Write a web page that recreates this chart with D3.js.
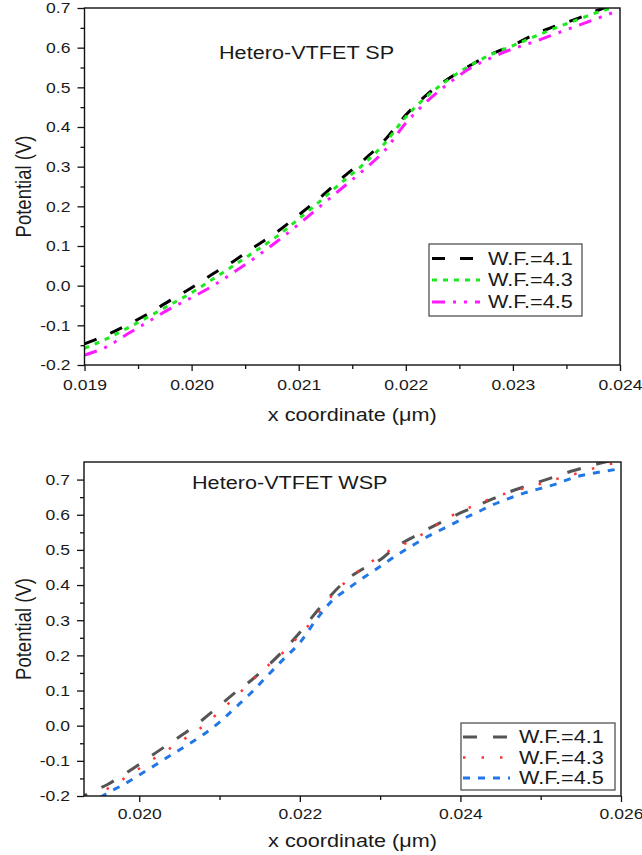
<!DOCTYPE html>
<html>
<head>
<meta charset="utf-8">
<script src="https://cdn.jsdelivr.net/npm/d3@7"></script>
<style>
  body { margin: 0; background: #fff; }
  svg { display: block; }
  text { font-family: "Liberation Sans", Arial, sans-serif; fill: #1a1a1a; }
</style>
</head>
<body>
<div id="chart"></div>
<script>
// ---- data ----
// top panel : Hetero-VTFET SP
let spX = [0.0190, 0.0192, 0.0194, 0.0196, 0.0198, 0.0200, 0.0202, 0.0204, 0.0206, 0.0208,
           0.0210, 0.0212, 0.0214, 0.0216, 0.0218, 0.0220, 0.0222, 0.0224, 0.0226, 0.0228,
           0.0230, 0.0232, 0.0234, 0.0236, 0.0238, 0.0240]
let spWF41 = [-0.147, -0.125, -0.099, -0.070, -0.037, -0.005, 0.030, 0.063, 0.100, 0.136,
              0.178, 0.222, 0.270, 0.315, 0.366, 0.430, 0.482, 0.522, 0.555, 0.584,
              0.606, 0.633, 0.655, 0.673, 0.695, 0.712]
let spWF43 = [-0.158, -0.135, -0.107, -0.078, -0.048, -0.018, 0.017, 0.052, 0.088, 0.125,
              0.168, 0.213, 0.260, 0.305, 0.358, 0.425, 0.478, 0.520, 0.555, 0.583,
              0.605, 0.628, 0.650, 0.670, 0.690, 0.705]
let spWF45 = [-0.175, -0.155, -0.122, -0.090, -0.058, -0.030, 0.000, 0.035, 0.072, 0.112,
              0.155, 0.200, 0.245, 0.290, 0.340, 0.410, 0.465, 0.510, 0.548, 0.575,
              0.597, 0.615, 0.635, 0.655, 0.675, 0.695]

// bottom panel : Hetero-VTFET WSP
let wspX = [0.0192, 0.0194, 0.0196, 0.0198, 0.0200, 0.0202, 0.0204, 0.0206, 0.0208, 0.0210,
            0.0212, 0.0214, 0.0216, 0.0218, 0.0220, 0.0222, 0.0224, 0.0226, 0.0228, 0.0230,
            0.0232, 0.0234, 0.0236, 0.0238, 0.0240, 0.0242, 0.0244, 0.0246, 0.0248, 0.0250,
            0.0252, 0.0254, 0.0256, 0.0258, 0.0260]
let wspWF41 = [-0.215, -0.188, -0.168, -0.140, -0.110, -0.078, -0.047, -0.016, 0.019, 0.057,
               0.095, 0.130, 0.170, 0.215, 0.265, 0.322, 0.374, 0.418, 0.448, 0.472,
               0.509, 0.535, 0.560, 0.583, 0.605, 0.625, 0.645, 0.664, 0.680, 0.695,
               0.710, 0.725, 0.738, 0.750, 0.762]
let wspWF43 = [-0.235, -0.207, -0.180, -0.152, -0.122, -0.091, -0.062, -0.032, 0.000, 0.040,
               0.082, 0.127, 0.170, 0.210, 0.258, 0.310, 0.370, 0.415, 0.452, 0.482,
               0.508, 0.527, 0.556, 0.585, 0.610, 0.628, 0.648, 0.663, 0.676, 0.688,
               0.702, 0.714, 0.728, 0.741, 0.750]
let wspWF45 = [-0.250, -0.222, -0.192, -0.168, -0.140, -0.112, -0.083, -0.055, -0.025, 0.010,
               0.052, 0.095, 0.143, 0.190, 0.236, 0.300, 0.355, 0.390, 0.422, 0.453,
               0.484, 0.512, 0.539, 0.562, 0.585, 0.606, 0.628, 0.646, 0.662, 0.675,
               0.688, 0.705, 0.716, 0.724, 0.731]

let legendNames = ["W.F.=4.1", "W.F.=4.3", "W.F.=4.5"]

let spXTicks = [0.019, 0.020, 0.021, 0.022, 0.023, 0.024]
let spXMinor = [0.0195, 0.0205, 0.0215, 0.0225, 0.0235]
let spYTicks = [-0.2, -0.1, 0.0, 0.1, 0.2, 0.3, 0.4, 0.5, 0.6, 0.7]
let spYMinor = [-0.15, -0.05, 0.05, 0.15, 0.25, 0.35, 0.45, 0.55, 0.65]

let wspXTicks = [0.020, 0.022, 0.024, 0.026]
let wspXMinor = [0.021, 0.023, 0.025]
let wspYTicks = [-0.2, -0.1, 0.0, 0.1, 0.2, 0.3, 0.4, 0.5, 0.6, 0.7]
let wspYMinor = [-0.15, -0.05, 0.05, 0.15, 0.25, 0.35, 0.45, 0.55, 0.65]

// the source picture is a bit wider than tall, so text gets stretched sideways
const STRETCH = 1.17

var svg = d3.select("#chart").append("svg")
    .attr("width", 642)
    .attr("height", 855)

function stretch(sel) {
    sel.each(function () {
        let t = d3.select(this)
        let x = +t.attr("x") || 0
        let y = +t.attr("y") || 0
        t.attr("transform", `translate(${x},${y}) scale(${STRETCH},1) translate(${-x},${-y})`)
    })
}

function panel(cfg) {
    let x = d3.scaleLinear().domain(cfg.xDomain).range([cfg.left, cfg.right])
    let y = d3.scaleLinear().domain(cfg.yDomain).range([cfg.bottom, cfg.top])

    let g = svg.append("g")

    g.append("clipPath").attr("id", cfg.id + "-clip")
        .append("rect")
        .attr("x", cfg.left).attr("y", cfg.top)
        .attr("width", cfg.right - cfg.left).attr("height", cfg.bottom - cfg.top)

    // lines
    let line = d3.line()
        .x((d) => x(d[0]))
        .y((d) => y(d[1]))
        .curve(d3.curveMonotoneX)

    let lines = g.append("g").attr("clip-path", `url(#${cfg.id}-clip)`)
    cfg.series.forEach((s) => {
        let pts = cfg.xs.map((xv, i) => [xv, s.values[i]])
        lines.append("path")
            .attr("d", line(pts))
            .attr("fill", "none")
            .attr("stroke", s.color)
            .attr("stroke-width", s.width)
            .attr("stroke-dasharray", s.dash)
            .attr("stroke-linecap", s.cap || "butt")
    })

    // minor ticks
    g.append("g")
        .attr("transform", `translate(0,${cfg.bottom})`)
        .call(d3.axisBottom(x).tickValues(cfg.xMinor).tickSize(4).tickFormat(""))
        .call((a) => a.select(".domain").remove())
    g.append("g")
        .attr("transform", `translate(${cfg.left},0)`)
        .call(d3.axisLeft(y).tickValues(cfg.yMinor).tickSize(4).tickFormat(""))
        .call((a) => a.select(".domain").remove())

    // major ticks + labels
    let xa = g.append("g")
        .attr("transform", `translate(0,${cfg.bottom})`)
        .call(d3.axisBottom(x).tickValues(cfg.xTicks).tickSize(6).tickPadding(cfg.xPad).tickFormat(d3.format(".3f")))
    xa.select(".domain").remove()

    let ya = g.append("g")
        .attr("transform", `translate(${cfg.left},0)`)
        .call(d3.axisLeft(y).tickValues(cfg.yTicks).tickSize(7).tickPadding(7).tickFormat((d) => d.toFixed(1)))
    ya.select(".domain").remove()

    g.selectAll(".tick line").attr("stroke", "#111").attr("stroke-width", 1.3)
    g.selectAll(".tick text")
        .attr("font-family", "Liberation Sans, Arial, sans-serif")
        .attr("font-size", 15)
        .attr("fill", "#1a1a1a")
    stretch(g.selectAll(".tick text"))

    // frame
    g.append("rect")
        .attr("x", cfg.left).attr("y", cfg.top)
        .attr("width", cfg.right - cfg.left).attr("height", cfg.bottom - cfg.top)
        .attr("fill", "none")
        .attr("stroke", "#111")
        .attr("stroke-width", 1.4)

    // panel title
    g.append("text")
        .attr("x", cfg.titleX).attr("y", cfg.titleY)
        .attr("font-size", 18.5)
        .text(cfg.title)
        .call(stretch)

    // axis titles
    let xt = g.append("text")
        .attr("x", (cfg.left + cfg.right) / 2).attr("y", cfg.xTitleY)
        .attr("text-anchor", "middle")
        .attr("font-size", 18.5)
    xt.append("tspan").text("x coordinate (")
    xt.append("tspan").text("μ")
    xt.append("tspan").text("m)")
    stretch(xt)

    g.append("g")
        .attr("transform", `translate(30.5,${(cfg.top + cfg.bottom) / 2}) scale(${STRETCH},1) rotate(-90)`)
        .append("text")
        .attr("text-anchor", "middle")
        .attr("font-size", 18.5)
        .text("Potential (V)")

    // legend
    let lg = g.append("g")
    lg.append("rect")
        .attr("x", cfg.legend.x).attr("y", cfg.legend.y)
        .attr("width", cfg.legend.w).attr("height", cfg.legend.h)
        .attr("fill", "#fff")
        .attr("stroke", "#444")
        .attr("stroke-width", 1.2)
    cfg.series.forEach((s, i) => {
        let cy = cfg.legend.rows[i]
        lg.append("line")
            .attr("x1", cfg.legend.sx1).attr("x2", cfg.legend.sx2)
            .attr("y1", cy).attr("y2", cy)
            .attr("stroke", s.color)
            .attr("stroke-width", s.width)
            .attr("stroke-dasharray", s.dash)
            .attr("stroke-linecap", s.cap || "butt")
        lg.append("text")
            .attr("x", cfg.legend.tx).attr("y", cy + 6.5)
            .attr("font-size", 18.5)
            .text(legendNames[i])
            .call(stretch)
    })
}

panel({
    id: "sp",
    left: 84.5, right: 620, top: 8, bottom: 365,
    xDomain: [0.019, 0.024], yDomain: [-0.2, 0.7],
    xs: spX,
    xTicks: spXTicks, xMinor: spXMinor, yTicks: spYTicks, yMinor: spYMinor,
    xPad: 8,
    series: [
        { values: spWF41, color: "#000000", width: 3, dash: "13,15" },
        { values: spWF43, color: "#1ee81e", width: 3, dash: "5,6" },
        { values: spWF45, color: "#ff1aff", width: 3, dash: "13,8,3,8,3,8" }
    ],
    title: "Hetero-VTFET SP", titleX: 219, titleY: 59,
    xTitleY: 421,
    legend: { x: 429, y: 244, w: 153, h: 72, rows: [258.5, 280, 302], sx1: 432, sx2: 480, tx: 488 }
})

panel({
    id: "wsp",
    left: 84, right: 621, top: 462, bottom: 796,
    xDomain: [0.019312, 0.026], yDomain: [-0.2, 0.75],
    xs: wspX,
    xTicks: wspXTicks, xMinor: wspXMinor, yTicks: wspYTicks, yMinor: wspYMinor,
    xPad: 6,
    series: [
        { values: wspWF41, color: "#555555", width: 3, dash: "14,16" },
        { values: wspWF43, color: "#ff3333", width: 2.5, dash: "2.5,16" },
        { values: wspWF45, color: "#2277e6", width: 3, dash: "7,8" }
    ],
    title: "Hetero-VTFET WSP", titleX: 192, titleY: 489,
    xTitleY: 847,
    legend: { x: 461, y: 723, w: 154, h: 67, rows: [737, 757.5, 778], sx1: 463, sx2: 510, tx: 519 }
})
</script>
</body>
</html>
